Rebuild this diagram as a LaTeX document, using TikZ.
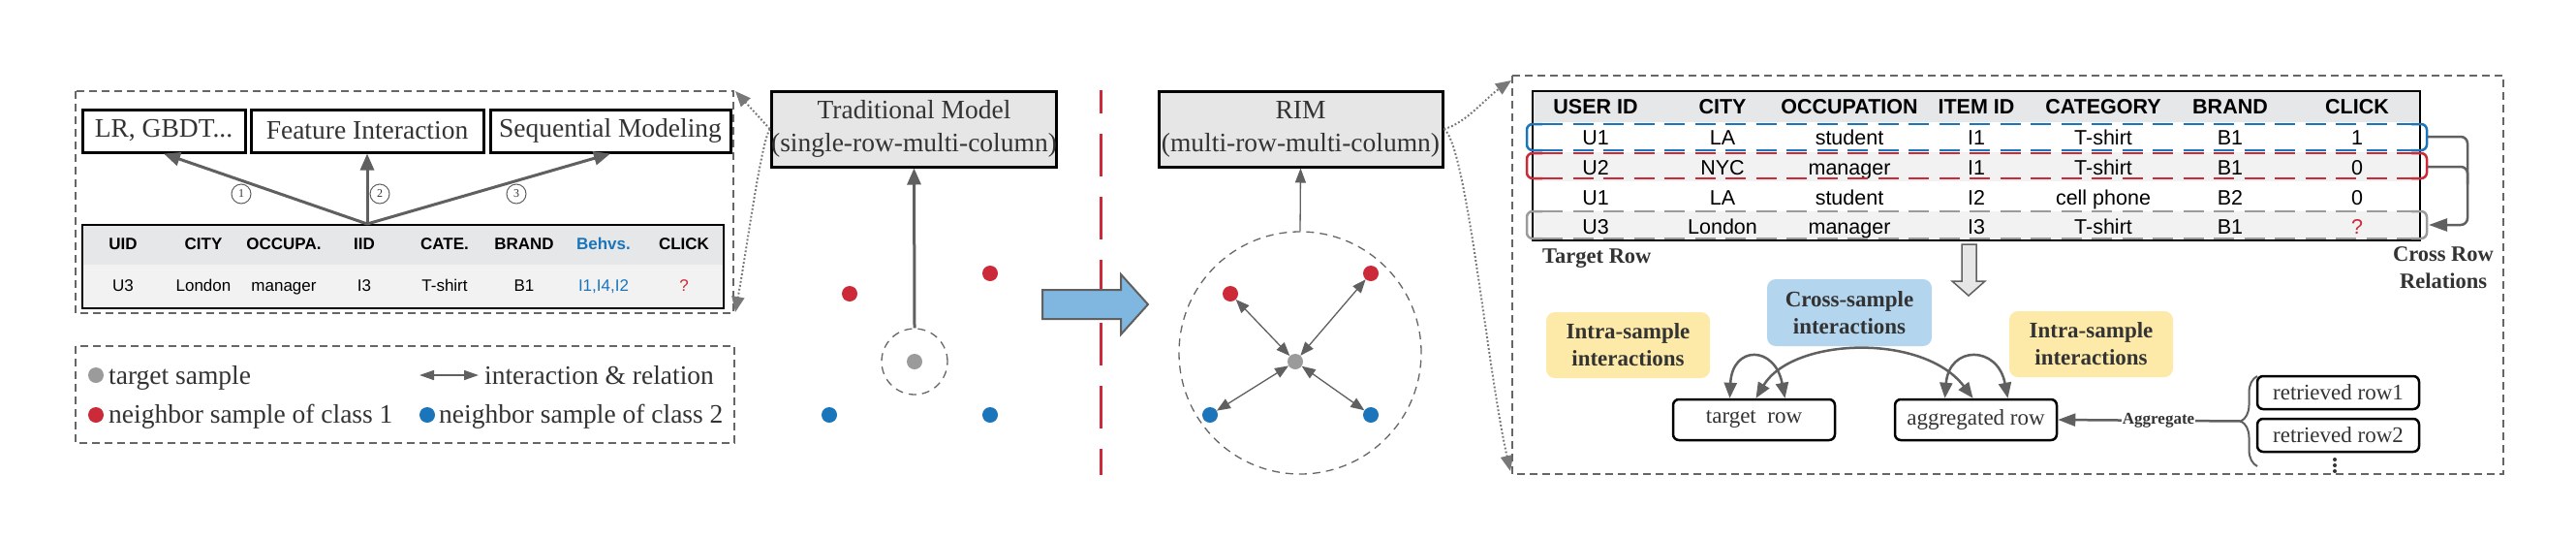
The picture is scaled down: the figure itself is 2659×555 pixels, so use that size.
\documentclass[tikz,border=0pt]{standalone}
\usepackage{fontspec}
\setmainfont{Liberation Serif}
\setsansfont{Liberation Sans}
\usetikzlibrary{arrows.meta,decorations.pathreplacing}
\definecolor{dgray}{HTML}{606060}
\definecolor{txt}{HTML}{333333}
\definecolor{boxgray}{HTML}{666666}
\definecolor{rred}{HTML}{CC2A38}
\definecolor{bblue}{HTML}{1B75BB}
\definecolor{ggray}{HTML}{9B9B9B}
\definecolor{hdr}{HTML}{E6E7E8}
\definecolor{rowg}{HTML}{F2F2F2}
\definecolor{yel}{HTML}{FDEAA8}
\definecolor{lblue}{HTML}{B3D5EE}
\definecolor{arrblue}{HTML}{80B7E0}
\definecolor{boxfill}{HTML}{E6E6E6}
\tikzset{
 panel/.style={draw=boxgray, line width=1.3pt, dash pattern=on 8pt off 5pt},
 mbox/.style={draw=black, line width=3pt, inner sep=0pt, text=txt, font=\fontsize{27.5}{34}\selectfont, align=center},
 fatarrow/.style={draw=dgray, line width=3pt, -{Triangle[length=17pt,width=14pt]}},
 thinarrow/.style={draw=dgray, line width=1.3pt, -{Triangle[length=15pt,width=11pt]}},
 dbl/.style={draw=dgray, line width=1.3pt, {Triangle[length=14pt,width=11pt]}-{Triangle[length=14pt,width=11pt]}},
 dot/.style={circle, inner sep=0pt, minimum size=16pt},
 dashcirc/.style={circle, draw=boxgray, line width=1.3pt, dash pattern=on 8pt off 6pt, inner sep=0pt},
 dotconn/.style={draw=dgray!85, line width=2pt, dash pattern=on 1.8pt off 2.2pt, -{Triangle[length=16pt,width=13pt]}},
 cnum/.style={circle, draw=dgray, line width=1pt, minimum size=20pt, inner sep=0pt, text=txt, font=\fontsize{12}{14}\selectfont},
 lgtext/.style={anchor=base west, inner sep=0pt, text=txt, font=\fontsize{27.5}{34}\selectfont},
 lth/.style={anchor=base, inner sep=0pt, font=\fontsize{17}{20}\selectfont\sffamily\bfseries},
 ltd/.style={anchor=base, inner sep=0pt, font=\fontsize{17}{20}\selectfont\sffamily},
 rth/.style={anchor=base, inner sep=0pt, font=\fontsize{21.5}{25}\selectfont\sffamily\bfseries},
 rtd/.style={anchor=base, inner sep=0pt, font=\fontsize{21.5}{25}\selectfont\sffamily},
 hl/.style={line width=2.5pt, dash pattern=on 21pt off 10.5pt},
 brk/.style={line width=2.5pt, rounded corners=6pt},
 xr/.style={draw=dgray, line width=2.5pt, rounded corners=7pt},
 boldlbl/.style={inner sep=0pt, text=txt, font=\fontsize{22.5}{28}\selectfont\bfseries, align=center},
 yelbox/.style={fill=yel, rounded corners=9pt, minimum width=169pt, minimum height=68pt, inner sep=0pt, text=txt, font=\fontsize{23}{28}\selectfont\bfseries, align=center},
 bluebox/.style={fill=lblue, rounded corners=9pt, minimum width=170pt, minimum height=69pt, inner sep=0pt, text=txt, font=\fontsize{23}{28}\selectfont\bfseries, align=center},
 rowbox/.style={draw=black, line width=2.5pt, rounded corners=6pt, minimum width=167pt, inner sep=0pt, text=txt, font=\fontsize{23}{28}\selectfont},
 loopc/.style={draw=dgray, line width=2.5pt, {Triangle[length=16pt,width=13pt]}-{Triangle[length=16pt,width=13pt]}},
 aggarrow/.style={draw=dgray, line width=2.5pt, -{Triangle[length=18pt,width=13pt]}},
}
\begin{document}
\begin{tikzpicture}[x=1pt,y=-1pt]
\useasboundingbox (0,0) rectangle (2659,555);
\fill[white] (0,0) rectangle (2659,555);

% ---------- left panel ----------
\draw[panel] (78,94) rectangle (757,323);
\node[mbox, minimum width=168pt, minimum height=44pt] (lr) at (169,135) {LR, GBDT...};
\node[mbox, minimum width=240pt, minimum height=44pt] (fi) at (379,135) {Feature Interaction};
\node[mbox, minimum width=248pt, minimum height=44pt] (sm) at (630,135) {Sequential Modeling};

\fill[hdr] (85,232) rectangle (747,273);
\fill[rowg] (85,273) rectangle (747,318);
\draw[line width=1.3pt] (85,232) rectangle (747,318);

\node[lth] (lh1) at (127,257) {UID};
\node[lth] (lh2) at (210,257) {CITY};
\node[lth] (lh3) at (293,257) {OCCUPA.};
\node[lth] (lh4) at (376,257) {IID};
\node[lth] (lh5) at (459,257) {CATE.};
\node[lth] (lh6) at (541,257) {BRAND};
\node[lth, text=bblue] (lh7) at (623,257) {Behvs.};
\node[lth] (lh8) at (706,257) {CLICK};
\node[ltd] (ld1) at (127,300) {U3};
\node[ltd] (ld2) at (210,300) {London};
\node[ltd] (ld3) at (293,300) {manager};
\node[ltd] (ld4) at (376,300) {I3};
\node[ltd] (ld5) at (459,300) {T-shirt};
\node[ltd] (ld6) at (541,300) {B1};
\node[ltd, text=bblue] (ld7) at (623,300) {I1,I4,I2};
\node[ltd, text=rred] (ld8) at (706,300) {?};

\coordinate (orig) at (379,231);
\draw[fatarrow] (orig) -- (lr.south);
\draw[fatarrow] (orig) -- (fi.south);
\draw[fatarrow] (orig) -- (sm.south);
\node[cnum] (n1) at (249,200) {1};
\node[cnum] (n2) at (392,200) {2};
\node[cnum] (n3) at (533,200) {3};

% legend
\draw[panel] (78,357) rectangle (758,457);
\node[dot, fill=ggray] (lg1) at (99,387) {};
\node[lgtext] (lt1) at (112,396) {target sample};
\node[dot, fill=rred] (lg2) at (99,428) {};
\node[lgtext] (lt2) at (112,436) {neighbor sample of class 1};
\coordinate (la1) at (433,387);
\coordinate (la2) at (494,387);
\draw[draw=dgray, line width=1.5pt, {Triangle[length=15pt,width=10pt]}-{Triangle[length=15pt,width=10pt]}] (la1) -- (la2);
\node[lgtext] (lt3) at (500,396) {interaction \& relation};
\node[dot, fill=bblue] (lg3) at (441,428) {};
\node[lgtext] (lt4) at (453,436) {neighbor sample of class 2};

% ---------- traditional model ----------
\node[mbox, fill=boxfill, minimum width=293pt, minimum height=78pt] (trad) at (943.5,133) {Traditional Model\\(single-row-multi-column)};
\node[dashcirc, minimum size=68pt] (c1) at (944,373) {};
\node[dot, fill=ggray] (g1) at (944,373) {};
\node[dot, fill=rred] (r1) at (877,303) {};
\node[dot, fill=rred] (r2) at (1022,282) {};
\node[dot, fill=bblue] (b1) at (856,428) {};
\node[dot, fill=bblue] (b2) at (1022,428) {};
\draw[fatarrow] (c1.north) -- (trad.south);

\coordinate (p1) at (759,94);
\coordinate (p2) at (759,322);
\draw[dotconn] (trad.west) -- (p1);
\draw[dotconn] (trad.west) .. controls (785,150) and (772,250) .. (p2);

% divider and big arrow
\draw[rred, line width=3pt, dash pattern=on 44pt off 21pt, dash phase=20pt] (1136,93) -- (1136,490);
\draw[fill=arrblue, draw=dgray, line width=2pt] (1076,299) -- (1157,299) -- (1157,283) -- (1185,314) -- (1157,345) -- (1157,329) -- (1076,329) -- cycle;

% ---------- RIM ----------
\node[mbox, fill=boxfill, minimum width=293pt, minimum height=78pt] (rim) at (1342.5,133) {RIM\\(multi-row-multi-column)};
\node[dashcirc, minimum size=250pt] (c2) at (1342,364) {};
\draw[thinarrow] (c2.north) -- (rim.south);
\node[dot, fill=ggray] (g2) at (1337,373) {};
\node[dot, fill=rred] (r3) at (1270,303) {};
\node[dot, fill=rred] (r4) at (1415,282) {};
\node[dot, fill=bblue] (b3) at (1249,428) {};
\node[dot, fill=bblue] (b4) at (1415,428) {};
\draw[dbl] (g2) -- (r3);
\draw[dbl] (g2) -- (r4);
\draw[dbl] (g2) -- (b3);
\draw[dbl] (g2) -- (b4);

\coordinate (p3) at (1560,83);
\coordinate (p4) at (1559,486);
\draw[dotconn] (rim.east) .. controls (1512,128) and (1535,100) .. (p3);
\draw[dotconn] (rim.east) .. controls (1514,150) and (1535,380) .. (p4);

% ---------- right panel ----------
\draw[panel] (1561,78) rectangle (2584,489);
\fill[hdr] (1582,94) rectangle (2498,126);
\fill[rowg] (1582,157) rectangle (2498,187);
\fill[rowg] (1582,218) rectangle (2498,248);
\draw[line width=1.3pt] (1582,94) rectangle (2498,248);

\foreach \t [count=\i] in {USER ID,CITY,OCCUPATION,ITEM ID,CATEGORY,BRAND,CLICK}
  \node[rth] (rh\i) at ({1516+131*\i},117) {\t};
\foreach \t [count=\i] in {U1,LA,student,I1,T-shirt,B1,1}
  \node[rtd] (ra\i) at ({1516+131*\i},149.5) {\t};
\foreach \t [count=\i] in {U2,NYC,manager,I1,T-shirt,B1,0}
  \node[rtd] (rb\i) at ({1516+131*\i},180) {\t};
\foreach \t [count=\i] in {U1,LA,student,I2,cell phone,B2,0}
  \node[rtd] (rc\i) at ({1516+131*\i},211.5) {\t};
\foreach \t [count=\i] in {U3,London,manager,I3,T-shirt,B1}
  \node[rtd] (rd\i) at ({1516+131*\i},241.5) {\t};
\node[rtd, text=rred] (rd7) at (2433,241.5) {?};

% row highlights
\draw[bblue, hl] (1592,128) -- (2489,128);
\draw[bblue, hl] (1592,155) -- (2489,155);
\draw[bblue, brk] (1592,128) -- (1576,128) -- (1576,155) -- (1592,155);
\draw[bblue, brk] (2489,128) -- (2505,128) -- (2505,155) -- (2489,155);
\draw[rred, hl] (1592,158) -- (2489,158);
\draw[rred, hl] (1592,184) -- (2489,184);
\draw[rred, brk] (1592,158) -- (1576,158) -- (1576,184) -- (1592,184);
\draw[rred, brk] (2489,158) -- (2505,158) -- (2505,184) -- (2489,184);
\draw[ggray, hl] (1592,218) -- (2489,218);
\draw[ggray, hl] (1592,246) -- (2489,246);
\draw[ggray, brk] (1592,218) -- (1576,218) -- (1576,246) -- (1592,246);
\draw[ggray, brk] (2489,218) -- (2505,218) -- (2505,246) -- (2489,246);

% cross row relations
\coordinate (bb) at (2506,141);
\coordinate (rbr) at (2506,172);
\coordinate (gbr) at (2507,232);
\draw[xr, -{Triangle[length=19pt,width=13pt]}] (bb) -- (2547,141) -- (2547,232) -- (gbr);
\draw[xr] (rbr) -- (2547,172) -- (2547,190);
\node[boldlbl] (crr) at (2522,276) {Cross Row\\Relations};
\node[boldlbl, anchor=base west] (trow) at (1592,271) {Target Row};

% gray down arrow
\draw[fill=boxfill, draw=dgray, line width=1.5pt] (2025,252) -- (2040,252) -- (2040,290) -- (2049,290) -- (2032,305) -- (2015,290) -- (2025,290) -- cycle;

% interaction boxes
\node[yelbox] (intra1) at (1680.5,356) {Intra-sample\\interactions};
\node[bluebox] (cross) at (1909,322.5) {Cross-sample\\interactions};
\node[yelbox] (intra2) at (2158.5,355) {Intra-sample\\interactions};

\node[rowbox, minimum height=42pt] (tr) at (1810.5,433) {target\ \ row};
\node[rowbox, minimum height=42pt] (ag) at (2039.5,433) {aggregated row};
\node[rowbox, minimum height=34pt] (rr1) at (2413.5,405) {retrieved row1};
\node[rowbox, minimum height=34pt] (rr2) at (2413.5,449) {retrieved row2};

\draw[loopc] ([xshift=-25pt]tr.north) .. controls (1788,356) and (1832,356) .. ([xshift=32pt]tr.north);
\draw[loopc] ([xshift=2pt]tr.north) .. controls (1850,348) and (1985,343) .. ([xshift=-3pt]ag.north);
\draw[loopc] ([xshift=-32pt]ag.north) .. controls (2012,356) and (2062,356) .. ([xshift=33pt]ag.north);

% aggregate
\draw[dgray, line width=2pt, decorate, decoration={brace, amplitude=17pt}] (2330,481) -- (2330,388);
\coordinate (bt) at (2313,434.5);
\draw[aggarrow] (bt) -- node[pos=0.45, fill=white, inner sep=1pt, text=txt, font=\fontsize{17}{20}\selectfont\bfseries] (aggl) {Aggregate} (ag.east);
\fill[txt] (2410,474) circle (2pt) (2410,480) circle (2pt) (2410,486) circle (2pt);
\end{tikzpicture}
\end{document}
